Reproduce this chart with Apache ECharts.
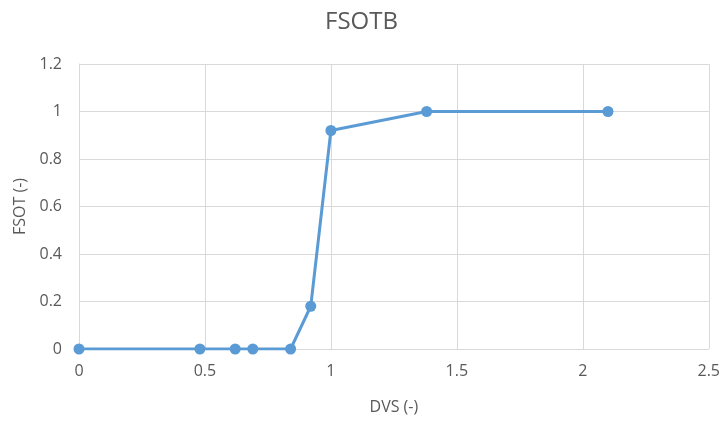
<!DOCTYPE html>
<html>
<head>
<meta charset="utf-8">
<script src="https://cdn.jsdelivr.net/npm/echarts@6/dist/echarts.min.js"></script>
<style>
  html, body { margin: 0; padding: 0; background: #fff; }
  #chart { width: 723px; height: 421px; }
</style>
</head>
<body>
<div id="chart"></div>
<script>
// FSOTB: fraction of storage organ growth vs development stage
const dvs = [0, 0.48, 0.62, 0.69, 0.84, 0.92, 1.0, 1.38, 2.1];
const fsot = [0, 0, 0, 0, 0, 0.18, 0.92, 1.0, 1.0];
const xTicks = [0, 0.5, 1, 1.5, 2, 2.5];
const yTicks = [0, 0.2, 0.4, 0.6, 0.8, 1, 1.2];

const textColor = '#595959';
const gridColor = '#d9d9d9';
const font = 'Open Sans, Liberation Sans, sans-serif';

const chart = echarts.init(document.getElementById('chart'));
chart.setOption({
  backgroundColor: '#ffffff',
  animation: false,
  title: {
    text: 'FSOTB',
    left: 'center',
    top: 5,
    textStyle: { color: textColor, fontSize: 24, fontWeight: 'normal', fontFamily: font }
  },
  grid: { left: 79, right: 14, top: 64, bottom: 72 },
  xAxis: {
    type: 'value',
    min: xTicks[0],
    max: xTicks[xTicks.length - 1],
    interval: 0.5,
    name: 'DVS (-)',
    nameLocation: 'middle',
    nameGap: 50,
    nameTextStyle: { color: textColor, fontSize: 16, fontFamily: font },
    axisLine: { show: true, lineStyle: { color: gridColor } },
    axisTick: { show: false },
    splitLine: { show: true, lineStyle: { color: gridColor, width: 1 } },
    axisLabel: { color: textColor, fontSize: 16, fontFamily: font, margin: 14 }
  },
  yAxis: {
    type: 'value',
    min: yTicks[0],
    max: yTicks[yTicks.length - 1],
    interval: 0.2,
    name: 'FSOT (-)',
    nameLocation: 'middle',
    nameGap: 50,
    nameTextStyle: { color: textColor, fontSize: 16, fontFamily: font },
    axisLine: { show: true, lineStyle: { color: gridColor } },
    axisTick: { show: false },
    splitLine: { show: true, lineStyle: { color: gridColor, width: 1 } },
    axisLabel: {
      color: textColor, fontSize: 16, fontFamily: font, margin: 17,
      formatter: v => String(Math.round(v * 10) / 10)
    }
  },
  series: [{
    type: 'line',
    data: dvs.map((x, i) => [x, fsot[i]]),
    symbol: 'circle',
    symbolSize: 11,
    lineStyle: { color: '#5b9bd5', width: 3 },
    itemStyle: { color: '#5b9bd5' }
  }]
});
</script>
</body>
</html>
